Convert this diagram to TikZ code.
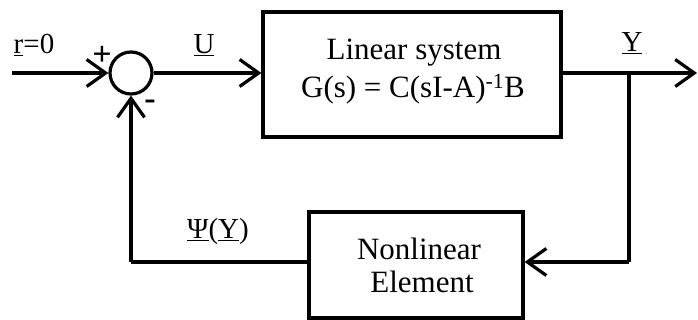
\documentclass[tikz,border=0pt]{standalone}
\usepackage{fontspec}
\setmainfont{Liberation Serif}
\usetikzlibrary{arrows.meta}
\begin{document}
\begin{tikzpicture}[x=1pt,y=-1pt,
  wire/.style={line width=3.2pt},
  flow/.style={wire,-{Straight Barb[length=19pt,width=27pt,line width=3.2pt]}},
  blockbox/.style={draw,line width=3.2pt,rectangle,inner sep=0pt},
  summer/.style={draw,line width=3.2pt,circle,minimum size=42pt,inner sep=0pt},
  lbl/.style={font=\fontsize{29}{31}\selectfont,inner sep=0pt},
  sign/.style={font=\fontsize{34}{36}\selectfont\bfseries,inner sep=0pt},
  btxt/.style={font=\fontsize{31}{34}\selectfont,align=center,inner sep=0pt}]
  \useasboundingbox (0,0) rectangle (698,320);

  % blocks
  \node[summer] (sum) at (131,73) {};
  \node[blockbox,minimum width=298pt,minimum height=125pt] (lin) at (412,74.5) {};
  \node[blockbox,minimum width=214pt,minimum height=106pt] (nl) at (416,265) {};
  \node[btxt] (lintxt1) at (414,53) {Linear system};
  \node[btxt] (lintxt2) at (413,89) {G(s) = C(sI-A)\textsuperscript{-1}B};
  \node[btxt] (nltxt1) at (419,249) {Nonlinear};
  \node[btxt] (nltxt2) at (422,282) {Element};

  % junction points
  \coordinate (in) at (12,73);
  \coordinate (br) at (629,73);
  \coordinate (out) at (697,73);
  \coordinate (brd) at (629,262);
  \coordinate (fbl) at (131,262);

  % forward path
  \draw[flow] (in) -- (sum.west);
  \draw[flow] (sum.east) -- (lin.west |- sum.east);
  \draw[flow] (lin.east |- br) -- (out);

  % feedback path
  \draw[wire] (br) -- (brd);
  \draw[flow] (brd) -- (nl.east |- brd);
  \draw[wire] (nl.west |- fbl) -- (fbl);
  \draw[flow] (fbl) -- (sum.south);

  % signal labels
  \node[lbl] (r) at (34,45) {\underline{r}=0};
  \node[sign] (plus) at (102,56) {+};
  \node[sign] (minus) at (150,105) {-};
  \node[lbl] (u) at (204,45) {\underline{U}};
  \node[lbl] (y) at (632,43) {\underline{Y}};
  \node[lbl] (psi) at (218,232) {\underline{Ψ}(\underline{Y})};
\end{tikzpicture}
\end{document}
